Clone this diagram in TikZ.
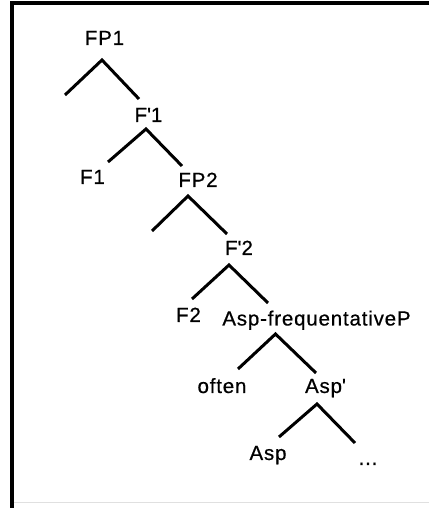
\documentclass[tikz,border=0pt]{standalone}
\usepackage{fontspec}
\setmainfont{Liberation Sans}[LetterSpace=4.0, FakeBold=0.6]

\begin{document}
\begin{tikzpicture}[x=1pt, y=1pt,
    etiq/.style={font=\fontsize{20.5}{22}\selectfont, inner sep=0pt, anchor=base, text height=14pt, text depth=4pt},
    rama/.style={line width=3pt}]
    % Marco
    \useasboundingbox (0,0) rectangle (429,508);
    \draw[line width=3.2pt] (12,0) -- (12,505) -- (429,505);
    \draw[black!12, line width=1pt] (14,5) -- (429,5);
    % Etiquetas
    \node[etiq] (fp1) at (104.5,463) {FP1};
    \node[etiq] (fbar1) at (148.5,386) {F\textquotesingle 1};
    \node[etiq] (f1) at (92.5,324) {F1};
    \node[etiq] (fp2) at (198,321) {FP2};
    \node[etiq] (fbar2) at (239,253) {F\textquotesingle 2};
    \node[etiq] (f2) at (188.5,186) {F2};
    \node[etiq] (aspP) at (316.5,182.5) {Asp-frequentativeP};
    \node[etiq] (often) at (222,115) {often};
    \node[etiq] (aspbar) at (325.5,115) {Asp\textquotesingle};
    \node[etiq] (asp) at (268,48) {Asp};
    \node[etiq] (dots) at (368,43) {...};
    % Ramas vacias
    \coordinate (hoja1) at (65,413);
    \coordinate (hoja2) at (152,277);
    % Ramas
    \draw[rama] (hoja1) -- ([shift={(-2.5,-15)}]fp1.base) -- ([shift={(-9.5,23)}]fbar1.base);
    \draw[rama] ([shift={(15.5,22)}]f1.base) -- ([shift={(-2.5,-7)}]fbar1.base) -- ([shift={(-16,21)}]fp2.base);
    \draw[rama] (hoja2) -- ([shift={(-10,-9)}]fp2.base) -- ([shift={(-12,21)}]fbar2.base);
    \draw[rama] ([shift={(3.5,23)}]f2.base) -- ([shift={(-10,-10)}]fbar2.base) -- ([shift={(-48.5,22.5)}]aspP.base);
    \draw[rama] ([shift={(16,24)}]often.base) -- ([shift={(-41,-8.5)}]aspP.base) -- ([shift={(-9.5,20)}]aspbar.base);
    \draw[rama] ([shift={(11,23)}]asp.base) -- ([shift={(-8.5,-11)}]aspbar.base) -- ([shift={(-13,22)}]dots.base);
\end{tikzpicture}
\end{document}
